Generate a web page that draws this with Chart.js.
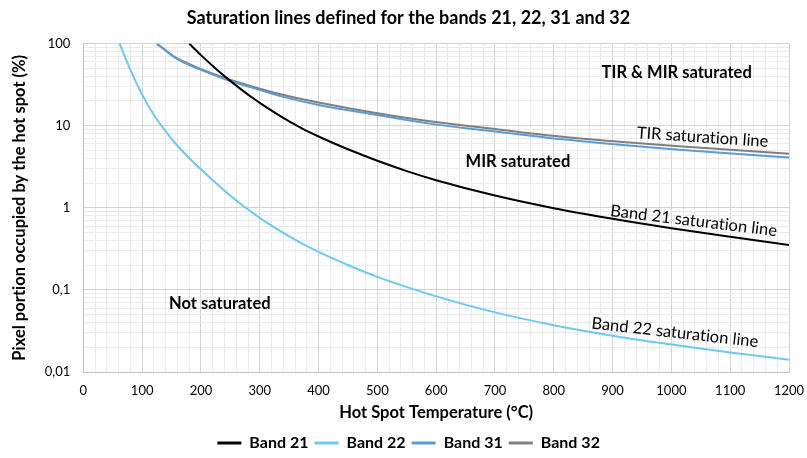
<!DOCTYPE html>
<html><head><meta charset="utf-8">
<script src="https://cdn.jsdelivr.net/npm/chart.js@4"></script>
<style>html,body{margin:0;padding:0;background:#fff}#wrap{width:807px;height:458px;position:relative}</style>
</head><body><div id="wrap"><canvas id="c"></canvas></div>
<script>
// ---- data ----
const band21Temp = [180, 200, 220, 241, 260, 284, 300, 335, 370, 400, 450, 500, 550, 600, 700, 800, 900, 1000, 1100, 1200];
const band21Pct  = [100, 72.4, 53.5, 39.6, 30.8, 22.8, 19.0, 13.1, 9.4, 7.38, 5.16, 3.74, 2.80, 2.17, 1.41, 0.989, 0.735, 0.564, 0.443, 0.352];

const band22Temp = [61.6, 80, 100, 120, 140, 160, 180, 200, 250, 300, 350, 400, 450, 500, 600, 700, 800, 900, 1000, 1100, 1200];
const band22Pct  = [100, 47.9, 23.9, 13.5, 8.55, 5.70, 4.02, 2.94, 1.406, 0.755, 0.450, 0.290, 0.201, 0.144, 0.0834, 0.0532, 0.0372, 0.0277, 0.0216, 0.0173, 0.0141];

const band31Temp = [125, 140, 153, 175, 198, 238, 284, 335, 400, 500, 589, 700, 793, 912, 1013, 1200];
const band31Pct  = [98.5, 82, 69.5, 57, 48.5, 37.6, 29.5, 22.9, 17.9, 13.5, 10.6, 8.5, 7.1, 5.88, 5.1, 4.1];

const band32Temp = [125, 140, 153, 175, 198, 238, 284, 335, 400, 500, 589, 700, 793, 912, 1013, 1200];
const band32Pct  = [100, 83, 70.6, 58.5, 49.5, 38.6, 30.5, 24.2, 19.2, 14.2, 11.35, 9.14, 7.62, 6.38, 5.61, 4.56];

const seriesNames = ['Band 21', 'Band 22', 'Band 31', 'Band 32'];
const yMajorValues = [0.01, 0.1, 1, 10, 100];
const yTickLabels  = ['0,01', '0,1', '1', '10', '100'];
const xTickLabels  = ['0','100','200','300','400','500','600','700','800','900','1000','1100','1200'];

const regionLabels = [
  {text: 'TIR & MIR saturated', x: 1009, y: 44.3, bold: true, angle: 0},
  {text: 'MIR saturated', x: 739, y: 3.64, bold: true, angle: 0},
  {text: 'Not saturated', x: 232, y: 0.0675, bold: true, angle: 0},
  {text: 'TIR saturation line', x: 1053, y: 7.24, bold: false, angle: 3.8},
  {text: 'Band 21 saturation line', x: 1038, y: 0.694, bold: false, angle: 6.9},
  {text: 'Band 22 saturation line', x: 1006, y: 0.0303, bold: false, angle: 6.4}
];

// ---- chart ----
const FONT = 'Lato, "Open Sans", sans-serif';
const toXY = (xs, ys) => xs.map((t, i) => ({x: t, y: ys[i]}));
const colors = ['#000000', '#6CC8F6', '#5B9BD5', '#7F7F7F'];
const seriesData = [toXY(band21Temp, band21Pct), toXY(band22Temp, band22Pct), toXY(band31Temp, band31Pct), toXY(band32Temp, band32Pct)];

const isMajorY = v => yMajorValues.some(m => Math.abs(v - m) / m < 1e-6);

const noLigaturePlugin = {
  id: 'noLig',
  beforeDraw(chart) {
    const ctx = chart.ctx;
    try { ctx.textRendering = 'optimizeSpeed'; } catch (e) {}
    try { ctx.letterSpacing = '0.01px'; } catch (e) {}
  }
};

const legendShiftPlugin = {
  id: 'legendShift',
  afterLayout(chart) {
    if (chart.legend) { chart.legend.top += 3; chart.legend.bottom += 3; }
  }
};

const labelPlugin = {
  id: 'regionLabels',
  afterDatasetsDraw(chart) {
    const ctx = chart.ctx, xs = chart.scales.x, ys = chart.scales.y;
    ctx.save();
    ctx.fillStyle = '#000';
    ctx.textAlign = 'center';
    ctx.textBaseline = 'middle';
    regionLabels.forEach(l => {
      ctx.save();
      ctx.translate(xs.getPixelForValue(l.x), ys.getPixelForValue(l.y));
      ctx.rotate(l.angle * Math.PI / 180);
      ctx.font = (l.bold ? 'bold ' : '') + '16.5px ' + FONT;
      ctx.fillText(l.text, 0, 0);
      ctx.restore();
    });
    ctx.restore();
  }
};

new Chart(document.getElementById('c'), {
  type: 'line',
  data: {
    datasets: seriesNames.map((n, i) => ({
      label: n,
      data: seriesData[i],
      borderColor: colors[i],
      backgroundColor: colors[i],
      borderWidth: 2,
      pointRadius: 0,
      fill: false,
      cubicInterpolationMode: 'monotone'
    }))
  },
  options: {
    responsive: true,
    maintainAspectRatio: false,
    animation: false,
    layout: {padding: {left: 10, right: 0, top: 4, bottom: 0}},
    plugins: {
      title: {
        display: true,
        text: 'Saturation lines defined for the bands 21, 22, 31 and 32',
        color: '#000',
        font: {family: FONT, size: 18, weight: 'bold'},
        padding: {top: 3, bottom: 15}
      },
      legend: {
        position: 'bottom',
        labels: {
          usePointStyle: true,
          pointStyle: 'line',
          pointStyleWidth: 24,
          color: '#000',
          font: {family: FONT, size: 16, weight: 'bold'},
          padding: 6,
          boxHeight: 3,
          generateLabels: chart => Chart.defaults.plugins.legend.labels.generateLabels(chart).map(l => Object.assign(l, {lineWidth: 3}))
        }
      },
      tooltip: {enabled: false}
    },
    scales: {
      x: {
        type: 'linear',
        min: 0, max: 1200,
        afterFit: s => { s.height = 54; s.paddingRight = 18; s.paddingLeft = 0; },
        ticks: {
          stepSize: 20,
          autoSkip: false,
          maxRotation: 0,
          padding: 11,
          color: '#000',
          font: {family: FONT, size: 13},
          callback: v => (v % 100 === 0 ? xTickLabels[v / 100] : '')
        },
        grid: {
          color: c => (c.tick && c.tick.value % 100 === 0 ? '#D4D4D4' : '#EBEBEB'),
          drawTicks: false
        },
        border: {color: '#BFBFBF'},
        title: {display: true, text: 'Hot Spot Temperature (°C)', color: '#000', font: {family: FONT, size: 16.5, weight: 'bold'}, padding: {top: 4, bottom: 3}}
      },
      y: {
        type: 'logarithmic',
        min: 0.01, max: 100,
        afterBuildTicks: s => {
          const t = [];
          for (let d = -2; d < 2; d++) {
            for (let k = 1; k < 10; k++) t.push({value: parseFloat((k * Math.pow(10, d)).toPrecision(6))});
          }
          t.push({value: 100});
          s.ticks = t;
        },
        ticks: {
          autoSkip: false,
          color: '#000',
          font: {family: FONT, size: 13},
          padding: 13,
          callback: v => {
            const i = yMajorValues.findIndex(m => Math.abs(v - m) / m < 1e-6);
            return i >= 0 ? yTickLabels[i] : '';
          }
        },
        grid: {
          color: c => (c.tick && isMajorY(c.tick.value) ? '#D4D4D4' : '#EBEBEB'),
          drawTicks: false
        },
        border: {color: '#BFBFBF'},
        title: {display: true, text: 'Pixel portion occupied by the hot spot (%)', color: '#000', font: {family: FONT, size: 16.5, weight: 'bold'}, padding: {top: 0, bottom: 2}}
      }
    }
  },
  plugins: [noLigaturePlugin, legendShiftPlugin, labelPlugin]
});
</script>
</body></html>
